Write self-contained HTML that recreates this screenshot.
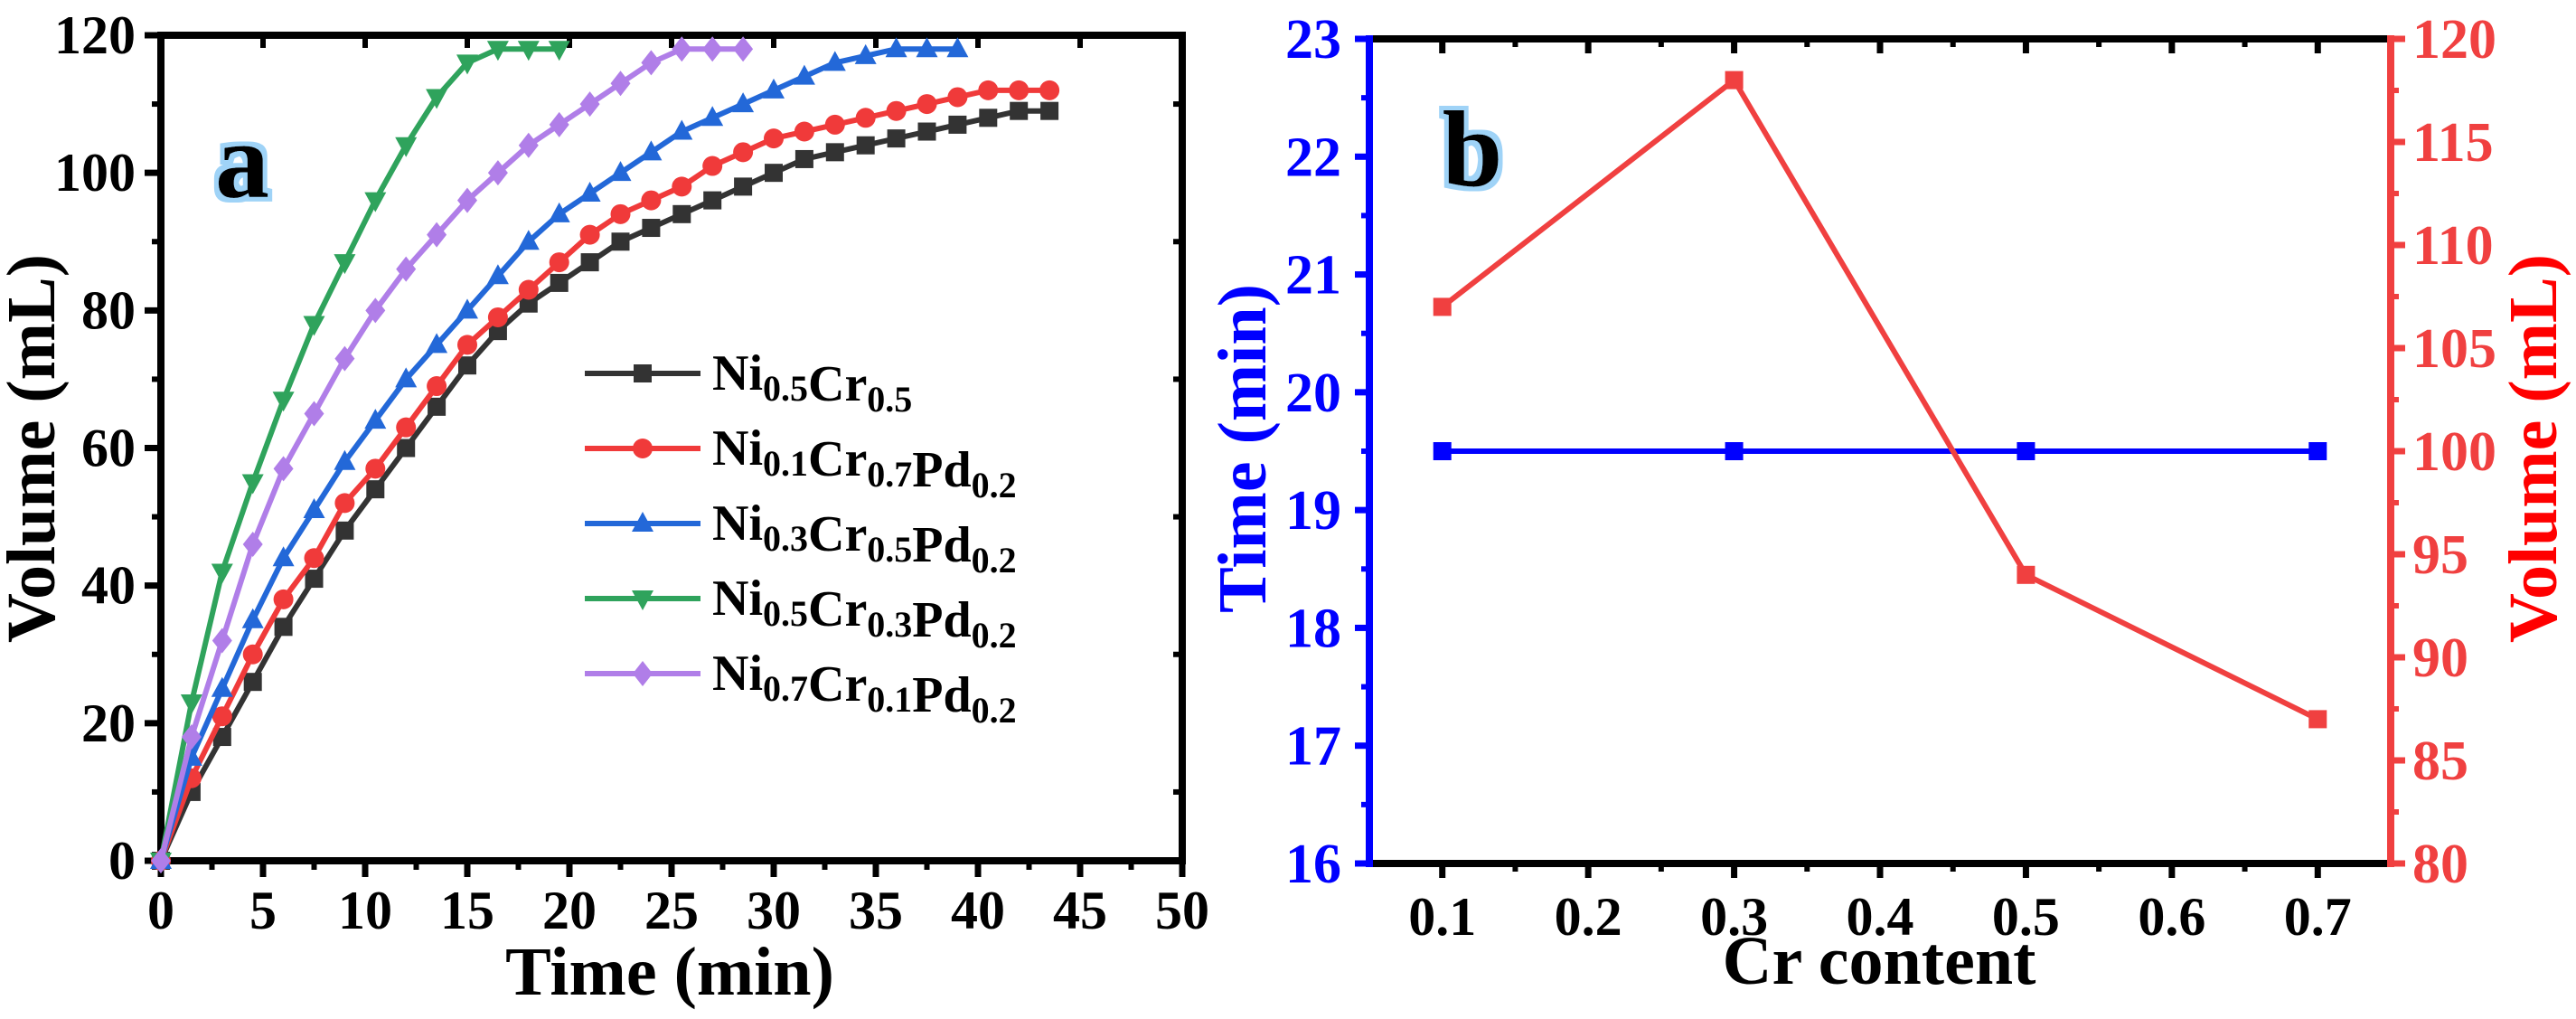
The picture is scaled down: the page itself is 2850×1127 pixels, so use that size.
<!DOCTYPE html>
<html><head><meta charset="utf-8"><style>
html,body{margin:0;padding:0;background:#fff;}
svg{display:block;}
svg text{font-family:"Liberation Serif","Times New Roman",serif;font-weight:bold;}
</style></head><body>
<svg id="chart" width="2850" height="1127" viewBox="0 0 2850 1127" xmlns="http://www.w3.org/2000/svg" font-family="Liberation Serif, serif" font-weight="bold">
<defs>
<filter id="glow" x="-30%" y="-30%" width="160%" height="160%">
<feMorphology in="SourceAlpha" operator="dilate" radius="5" result="d"/>
<feFlood flood-color="#9fd3f7"/><feComposite in2="d" operator="in" result="g"/>
<feMerge><feMergeNode in="g"/><feMergeNode in="SourceGraphic"/></feMerge>
</filter>
</defs>
<g id="pa"></g>
<g id="pb"></g>
</svg>
<script>
const NS="http://www.w3.org/2000/svg";
// Panel a data
const timesStep = 1.5;
const blackVals=[0,10,18,26,34,41,48,54,60,66,72,77,81,84,87,90,92,94,96,98,100,102,103,104,105,106,107,108,109,109];
const redVals=[0,12,21,30,38,44,52,57,63,69,75,79,83,87,91,94,96,98,101,103,105,106,107,108,109,110,111,112,112,112];
const blueVals=[0,15,25,35,44,51,58,64,70,75,80,85,90,94,97,100,103,106,108,110,112,114,116,117,118,118,118];
const greenVals=[0,23,42,55,67,78,87,96,104,111,116,118,118,118];
const purpleVals=[0,18,32,46,57,65,73,80,86,91,96,100,104,107,110,113,116,118,118,118];
const seriesNames=["Ni0.5Cr0.5","Ni0.1Cr0.7Pd0.2","Ni0.3Cr0.5Pd0.2","Ni0.5Cr0.3Pd0.2","Ni0.7Cr0.1Pd0.2"];
const aXTicks=[0,5,10,15,20,25,30,35,40,45,50];
const aYTicks=[0,20,40,60,80,100,120];
// Panel b data
const crContent=[0.1,0.3,0.5,0.7];
const timeVals=[19.5,19.5,19.5,19.5];
const volumeVals=[107,118,94,87];
const bXTicks=[0.1,0.2,0.3,0.4,0.5,0.6,0.7];
const bLeftTicks=[16,17,18,19,20,21,22,23];
const bRightTicks=[80,85,90,95,100,105,110,115,120];

function el(tag,attrs,parent,text){const e=document.createElementNS(NS,tag);for(const k in attrs)e.setAttribute(k,attrs[k]);if(text!==undefined)e.textContent=text;parent.appendChild(e);return e;}

// ---------- Panel A ----------
const pa=document.getElementById('pa');
const aL=178,aR=1308,aT=39,aB=952;
const ax=v=>aL+(v-0)/(50-0)*(aR-aL);
const ay=v=>aB-(v-0)/(120-0)*(aB-aT);
const colors=["#333333","#f03a3a","#2368d8","#2fa35c","#b07ee8"];
const shapes=["square","circle","up","down","diamond"];
const allVals=[blackVals,redVals,blueVals,greenVals,purpleVals];
function marker(g,shape,x,y,c,s){
  let m;
  if(shape==="square") m=el('rect',{x:x-s,y:y-s,width:2*s,height:2*s,fill:c},g);
  else if(shape==="circle") m=el('circle',{cx:x,cy:y,r:s*1.1,fill:c},g);
  else if(shape==="up") m=el('polygon',{points:`${x},${y-s*1.3} ${x-s*1.2},${y+s*0.9} ${x+s*1.2},${y+s*0.9}`,fill:c},g);
  else if(shape==="down") m=el('polygon',{points:`${x},${y+s*1.3} ${x-s*1.2},${y-s*0.9} ${x+s*1.2},${y-s*0.9}`,fill:c},g);
  else m=el('polygon',{points:`${x},${y-s*1.4} ${x+s*1.1},${y} ${x},${y+s*1.4} ${x-s*1.1},${y}`,fill:c},g);
  return m;
}
const axg=el('g',{},pa);


aXTicks.forEach((t,i)=>{
  const x=ax(t);
  el('line',{x1:x,y1:aB,x2:x,y2:aB+18,stroke:'#000','stroke-width':7},axg);
  el('line',{x1:x,y1:aT,x2:x,y2:aT+14,stroke:'#000','stroke-width':6},axg);
  if(i<aXTicks.length-1){const xm=ax(t+2.5);el('line',{x1:xm,y1:aB,x2:xm,y2:aB+10,stroke:'#000','stroke-width':6},axg);}
  const tx=el('text',{x:x,y:1027,'font-size':60,'text-anchor':'middle'},axg,String(t));
  
  
});
aYTicks.forEach((t,i)=>{
  const y=ay(t);
  el('line',{x1:aL,y1:y,x2:aL-18,y2:y,stroke:'#000','stroke-width':7},axg);
  if(i<aYTicks.length-1){const ym=ay(t+10);el('line',{x1:aL,y1:ym,x2:aL-10,y2:ym,stroke:'#000','stroke-width':6},axg);el('line',{x1:aR,y1:ym,x2:aR-10,y2:ym,stroke:'#000','stroke-width':6},axg);}
  const tx=el('text',{x:150,y:y+20,'font-size':60,'text-anchor':'end'},axg,String(t));
  
  
});
allVals.forEach((vals,si)=>{
  const g=el('g',{},pa);
  
  
  const pts=vals.map((v,i)=>ax(i*timesStep)+','+ay(v)).join(' ');
  el('polyline',{points:pts,fill:'none',stroke:colors[si],'stroke-width':6,'stroke-linejoin':'round'},g);
  vals.forEach((v,i)=>{const m=marker(g,shapes[si],ax(i*timesStep),ay(v),colors[si],10);
    
    });
});
el('rect',{x:aL,y:aT,width:aR-aL,height:aB-aT,fill:'none',stroke:'#000','stroke-width':8},axg);
const ayt=el('text',{x:0,y:0,'font-size':76,'text-anchor':'middle',transform:'translate(60,496) rotate(-90)'},pa,'Volume (mL)');


const axt=el('text',{x:741,y:1100,'font-size':76,'text-anchor':'middle'},pa,'Time (min)');


const la=el('text',{x:268,y:218,'font-size':120,'text-anchor':'middle',filter:'url(#glow)'},pa,'a');


const legendSubs=[[["Ni","0.5"],["Cr","0.5"]],[["Ni","0.1"],["Cr","0.7"],["Pd","0.2"]],[["Ni","0.3"],["Cr","0.5"],["Pd","0.2"]],[["Ni","0.5"],["Cr","0.3"],["Pd","0.2"]],[["Ni","0.7"],["Cr","0.1"],["Pd","0.2"]]];
const lg=el('g',{},pa);


legendSubs.forEach((parts,i)=>{
  const y=413+i*83;
  const eg=el('g',{},lg);
  
  
  el('line',{x1:647,y1:y,x2:775,y2:y,stroke:colors[i],'stroke-width':6},eg);
  marker(eg,shapes[i],711,y,colors[i],10);
  const t=el('text',{x:788,y:y+18,'font-size':56},eg);
  parts.forEach(p=>{el('tspan',{},t,p[0]);el('tspan',{'font-size':40,dy:12},t,p[1]);el('tspan',{dy:-12},t,'');});
});

// ---------- Panel B ----------
const pb=document.getElementById('pb');
const bL=1515,bR=2645,bT=43,bB=955;
const bx=v=>bL+(v-0.05)/(0.75-0.05)*(bR-bL);
const byL=v=>bB-(v-16)/(23-16)*(bB-bT);
const byR=v=>bB-(v-80)/(120-80)*(bB-bT);
const bg=el('g',{},pb);


bXTicks.forEach((t,i)=>{
  const x=bx(t);
  el('line',{x1:x,y1:bB,x2:x,y2:bB+16,stroke:'#000','stroke-width':7},bg);
  el('line',{x1:x,y1:bT,x2:x,y2:bT+16,stroke:'#000','stroke-width':7},bg);
  const xm=bx(t+0.05);
  if(xm<bR-5){el('line',{x1:xm,y1:bB,x2:xm,y2:bB+9,stroke:'#000','stroke-width':6},bg);el('line',{x1:xm,y1:bT,x2:xm,y2:bT+9,stroke:'#000','stroke-width':6},bg);}
  const tx=el('text',{x:x,y:1034,'font-size':60,'text-anchor':'middle'},bg,t.toFixed(1));
  
  
});
bLeftTicks.forEach((t,i)=>{
  const y=byL(t);
  el('line',{x1:bL,y1:y,x2:bL-16,y2:y,stroke:'#0000ff','stroke-width':7},bg);
  if(i<bLeftTicks.length-1){const ym=byL(t+0.5);el('line',{x1:bL,y1:ym,x2:bL-9,y2:ym,stroke:'#0000ff','stroke-width':6},bg);}
  const tx=el('text',{x:1484,y:y+21,'font-size':62,'text-anchor':'end',fill:'#0000ff'},bg,String(t));
  
  
});
bRightTicks.forEach((t,i)=>{
  const y=byR(t);
  el('line',{x1:bR,y1:y,x2:bR+16,y2:y,stroke:'#f04040','stroke-width':7},bg);
  if(i<bRightTicks.length-1){const ym=byR(t+2.5);el('line',{x1:bR,y1:ym,x2:bR+9,y2:ym,stroke:'#f04040','stroke-width':6},bg);}
  const tx=el('text',{x:2669,y:y+21,'font-size':62,fill:'#f04040'},bg,String(t));
  
  
});
el('line',{x1:bL-4,y1:bT,x2:bR+4,y2:bT,stroke:'#000','stroke-width':8},bg);
el('line',{x1:bL-4,y1:bB,x2:bR+4,y2:bB,stroke:'#000','stroke-width':8},bg);
el('line',{x1:bL,y1:bT-4,x2:bL,y2:bB+4,stroke:'#0000ff','stroke-width':8},bg);
el('line',{x1:bR,y1:bT-4,x2:bR,y2:bB+4,stroke:'#f04040','stroke-width':8},bg);
const tg=el('g',{},pb);


el('polyline',{points:crContent.map((c,i)=>bx(c)+','+byL(timeVals[i])).join(' '),fill:'none',stroke:'#0000ff','stroke-width':6},tg);
crContent.forEach((c,i)=>{const m=marker(tg,'square',bx(c),byL(timeVals[i]),'#0000ff',10);
  
  });
const vg=el('g',{},pb);


el('polyline',{points:crContent.map((c,i)=>bx(c)+','+byR(volumeVals[i])).join(' '),fill:'none',stroke:'#f04040','stroke-width':6},vg);
crContent.forEach((c,i)=>{const m=marker(vg,'square',bx(c),byR(volumeVals[i]),'#f04040',10);
  
  });
const blt=el('text',{x:0,y:0,'font-size':76,'text-anchor':'middle',fill:'#0000ff',transform:'translate(1400,496) rotate(-90)'},pb,'Time (min)');


const brt=el('text',{x:0,y:0,'font-size':76,'text-anchor':'middle',fill:'#ff0000',transform:'translate(2828,496) rotate(-90)'},pb,'Volume (mL)');


const bxt=el('text',{x:2079,y:1088,'font-size':76,'text-anchor':'middle'},pb,'Cr content');


const lb=el('text',{x:1629,y:205,'font-size':120,'text-anchor':'middle',filter:'url(#glow)'},pb,'b');


</script>
</body></html>
